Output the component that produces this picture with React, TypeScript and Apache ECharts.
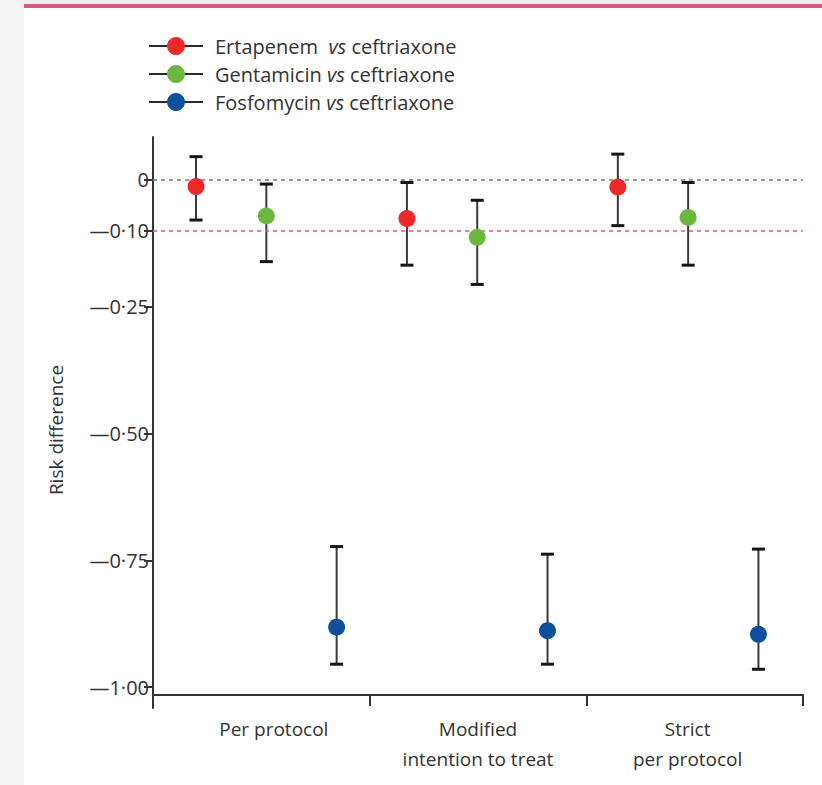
import React, { useEffect, useRef } from "react";
import * as echarts from "echarts";

const categories = ["Per protocol", "Modified\nintention to treat", "Strict\nper protocol"];
const seriesNames = ["Ertapenem  vs ceftriaxone", "Gentamicin vs ceftriaxone", "Fosfomycin vs ceftriaxone"];
const seriesColors = ["#f0282a", "#6cb83f", "#0d4f9a"];

// point estimates per analysis (Per protocol, mITT, Strict PP)
const ertapenemEst = [-0.013, -0.076, -0.014];
const ertapenemLo = [-0.079, -0.168, -0.090];
const ertapenemHi = [0.046, -0.005, 0.051];

const gentamicinEst = [-0.071, -0.113, -0.074];
const gentamicinLo = [-0.161, -0.206, -0.168];
const gentamicinHi = [-0.008, -0.040, -0.005];

const fosfomycinEst = [-0.882, -0.889, -0.896];
const fosfomycinLo = [-0.955, -0.955, -0.965];
const fosfomycinHi = [-0.723, -0.738, -0.728];

const yTicks = [0, -0.1, -0.25, -0.5, -0.75, -1];
const refLines = [0, -0.1];

const FONT = "'Open Sans', Lato, sans-serif";
const TXT = "#333333";

export default function App() {
  const ref = useRef<HTMLDivElement>(null);
  useEffect(() => {
    if (!ref.current) return;
    const chart = echarts.init(ref.current, null, { renderer: "svg" });
    const groups = [
      { est: ertapenemEst, lo: ertapenemLo, hi: ertapenemHi },
      { est: gentamicinEst, lo: gentamicinLo, hi: gentamicinHi },
      { est: fosfomycinEst, lo: fosfomycinLo, hi: fosfomycinHi },
    ];
    const nSeries = groups.length;
    // slot position: analysis index * nSeries + series index
    const pos = (a: number, s: number) => a * nSeries + s;

    const errorSeries = groups.map((g, s) => ({
      type: "custom",
      name: "ci" + s,
      xAxisIndex: 0,
      yAxisIndex: 0,
      z: 2,
      encode: { x: 0, y: [1, 2] },
      data: g.est.map((_, a) => [pos(a, s), g.lo[a], g.hi[a]]),
      renderItem: (params: any, api: any) => {
        const x = api.value(0);
        const top = api.coord([x, api.value(2)]);
        const bot = api.coord([x, api.value(1)]);
        const cw = 6.5;
        return {
          type: "group",
          children: [
            { type: "line", shape: { x1: top[0], y1: top[1], x2: bot[0], y2: bot[1] }, style: { stroke: "#3a3a3a", lineWidth: 2 } },
            { type: "line", shape: { x1: top[0] - cw, y1: top[1], x2: top[0] + cw, y2: top[1] }, style: { stroke: "#151515", lineWidth: 3 } },
            { type: "line", shape: { x1: bot[0] - cw, y1: bot[1], x2: bot[0] + cw, y2: bot[1] }, style: { stroke: "#151515", lineWidth: 3 } },
          ],
        };
      },
    }));

    const pointSeries = groups.map((g, s) => ({
      type: "line",
      name: seriesNames[s],
      xAxisIndex: 0,
      yAxisIndex: 0,
      z: 5,
      symbol: "circle",
      symbolSize: 17,
      itemStyle: { color: seriesColors[s] },
      lineStyle: { width: 0, opacity: 0 },
      data: g.est.map((v, a) => [pos(a, s), v]),
      markLine:
        s === 0
          ? {
              silent: true,
              symbol: "none",
              label: { show: false },
              data: refLines.map((v, i) => ({
                yAxis: v,
                lineStyle: { color: i === 0 ? "#7a7a7a" : "#ea4f78", type: [4, 4], width: 1.5 },
              })),
            }
          : undefined,
    }));

    const labelPad = [[0, 0, 0, 25], [0, 0, 0, 0], [0, 14, 0, 0]];

    chart.setOption({
      animation: false,
      backgroundColor: "#ffffff",
      textStyle: { fontFamily: FONT },
      graphic: [
        { type: "rect", shape: { x: 0, y: 0, width: 24, height: 785 }, style: { fill: "#f3f3f3" } },
        { type: "rect", shape: { x: 24, y: 0, width: 798, height: 4 }, style: { fill: "#f0f0f0" } },
        { type: "rect", shape: { x: 24, y: 4, width: 798, height: 4 }, style: { fill: "#d6587c" } },
      ],
      legend: {
        orient: "vertical",
        left: 143,
        top: 31,
        itemWidth: 54,
        itemHeight: 22.5,
        itemGap: 8,
        data: seriesNames,
        lineStyle: { color: "#2a2a2a", width: 2, type: "solid", opacity: 1 },
        formatter: (name: string) => name.replace("vs", "{i|vs}"),
        textStyle: {
          fontFamily: FONT,
          fontSize: 20,
          color: TXT,
          padding: [0, 0, 0, 7],
          rich: { i: { fontFamily: FONT, fontSize: 20, fontStyle: "italic", color: TXT } },
        },
      },
      grid: { left: 153, right: 19, top: 137, bottom: 77, containLabel: false },
      xAxis: [
        { type: "value", show: false, min: -0.612, max: 8.634, axisLine: { onZero: false } },
        {
          type: "category",
          data: categories.map((c, i) => ({ value: c, textStyle: { padding: labelPad[i] } })),
          position: "bottom",
          offset: -13,
          boundaryGap: true,
          axisLine: { onZero: false, lineStyle: { color: TXT, width: 2 } },
          axisTick: { show: true, length: 11, interval: 0, lineStyle: { color: TXT, width: 2 } },
          axisLabel: { margin: 19, fontSize: 19, color: TXT, lineHeight: 30, interval: 0, fontFamily: FONT },
          splitLine: { show: false },
        },
      ],
      yAxis: {
        type: "value",
        min: -1.0414,
        max: 0.0848,
        name: "Risk difference",
        nameLocation: "middle",
        nameGap: 88,
        nameTextStyle: { fontSize: 19, color: TXT, fontFamily: FONT, padding: [0, 15, 0, 0] },
        axisLine: { show: true, onZero: false, lineStyle: { color: TXT, width: 2 } },
        axisTick: { show: true, length: 9, customValues: yTicks, lineStyle: { color: TXT, width: 2 } },
        axisLabel: {
          customValues: yTicks,
          margin: 4,
          fontSize: 20,
          color: TXT,
          fontFamily: FONT,
          formatter: (v: number) => (v === 0 ? "0" : "\u2014" + Math.abs(v).toFixed(2).replace(".", "\u00b7")),
        },
        splitLine: { show: false },
      },
      series: [...errorSeries, ...pointSeries],
    });
    return () => chart.dispose();
  }, []);
  return (
    <div
      ref={ref}
      style={{ position: "fixed", left: 0, top: 0, width: 822, height: 785, background: "#fff" }}
    />
  );
}
